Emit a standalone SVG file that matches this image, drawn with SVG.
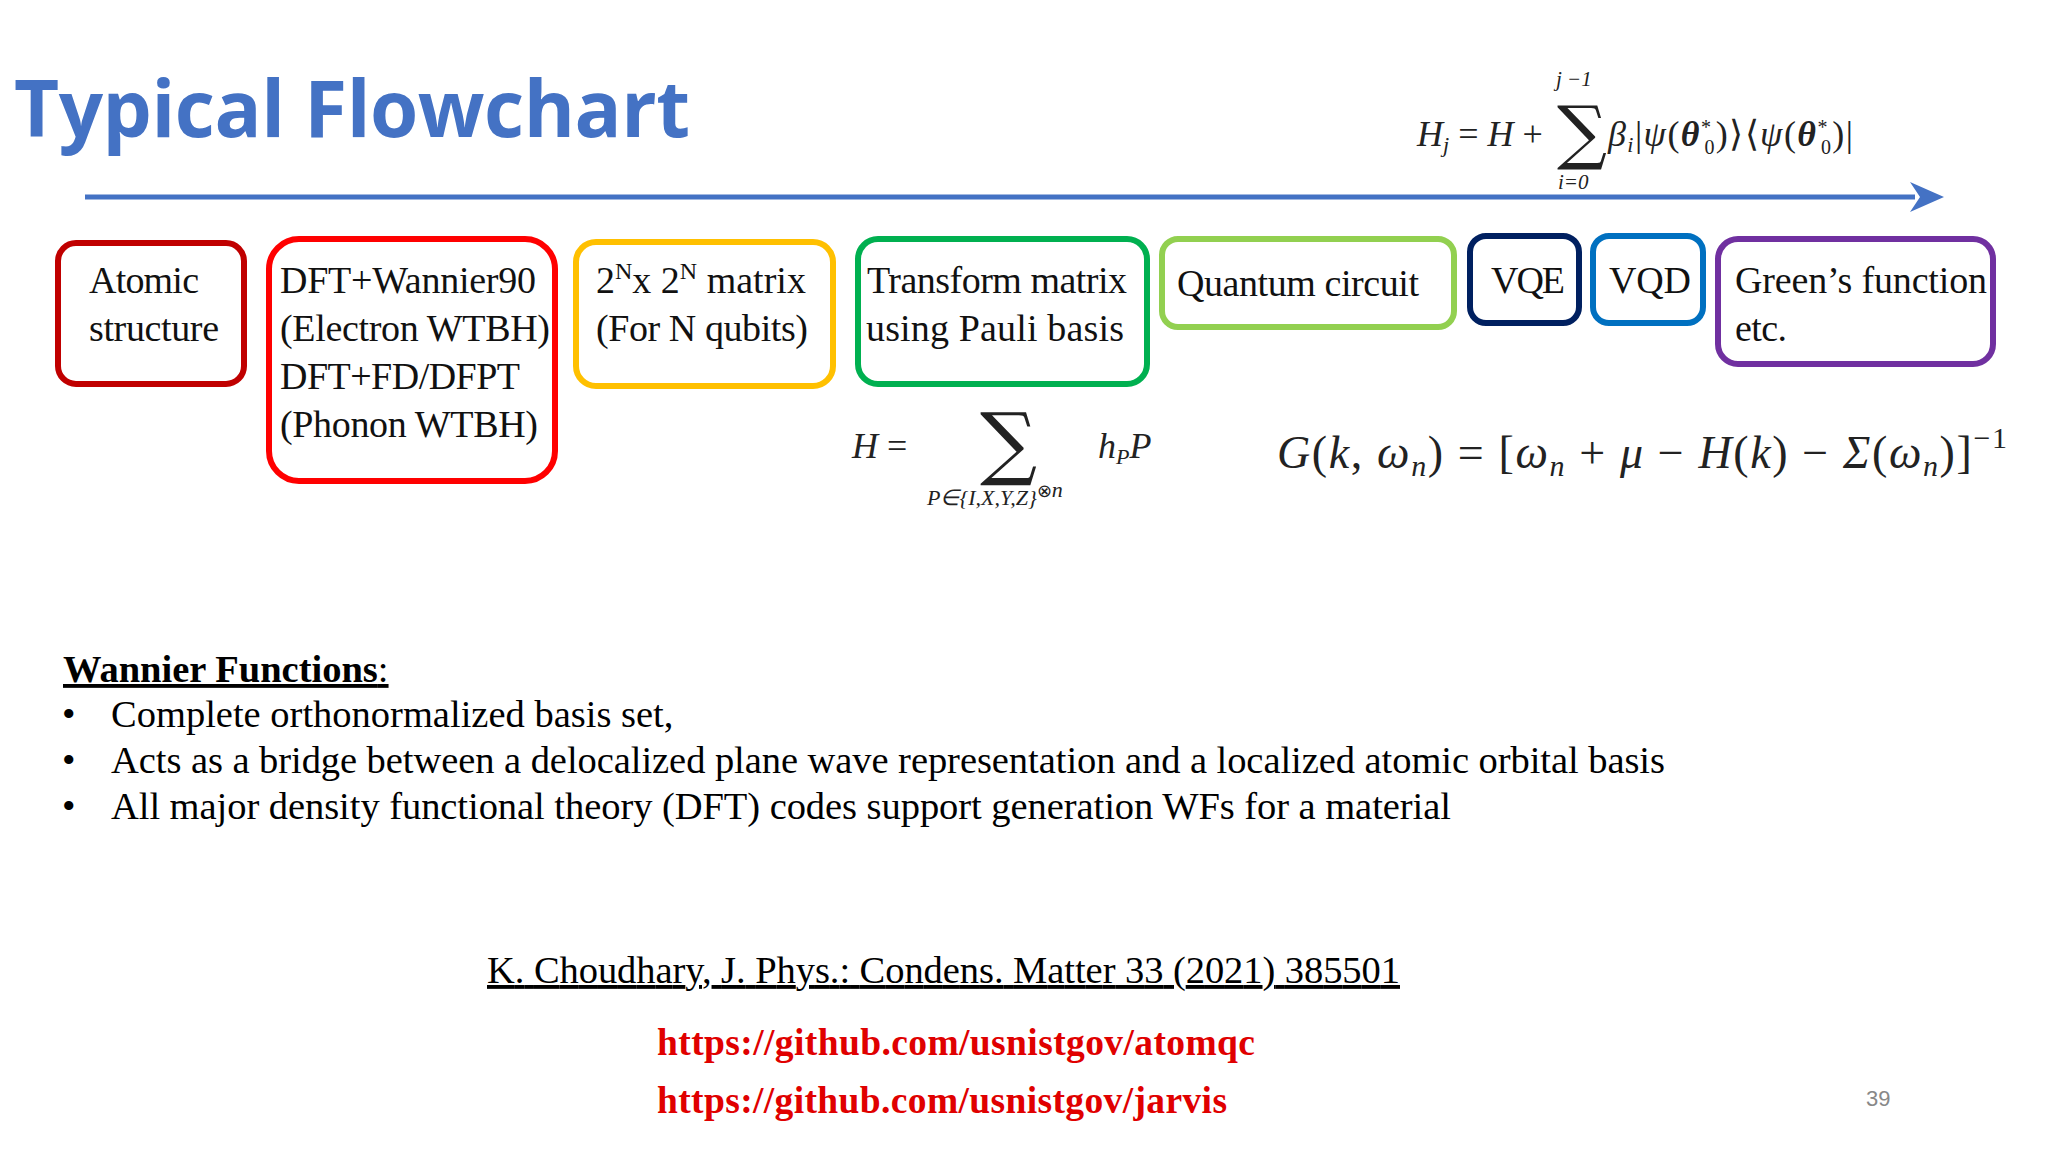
<svg xmlns="http://www.w3.org/2000/svg" width="2048" height="1152" viewBox="0 0 2048 1152">
<defs>
<style>
.box{fill:#fff;stroke-width:6}
.t{font-family:"Liberation Serif",serif;font-size:38px;fill:#111}
.m{font-family:"Liberation Serif",serif;font-style:italic;fill:#222}
.b{font-family:"Liberation Serif",serif;font-size:38.5px;fill:#000}
.u{font-family:"Liberation Serif",serif;font-size:37.5px;font-weight:bold;fill:#e00000}
</style>
</defs>
<rect width="2048" height="1152" fill="#fff"/>
<text x="14" y="137" font-family="'Open Sans','Liberation Sans',sans-serif" font-weight="bold" font-size="78" fill="#4472C4" textLength="676">Typical Flowchart</text>
<g id="connectors">
<line x1="85" y1="197" x2="1915" y2="197" stroke="#4472C4" stroke-width="5"/>
<path d="M1910,182 L1944,197 L1910,212 L1920,197 Z" fill="#4472C4"/>
</g>
<g id="n1"><rect class="box" x="58" y="243" width="186" height="141" rx="18" stroke="#C00000"/>
<text class="t" x="89" y="293" textLength="110">Atomic</text><text class="t" x="89" y="341" textLength="130">structure</text></g>
<g id="n2"><rect class="box" x="269" y="239" width="286" height="242" rx="30" stroke="#FF0000"/>
<text class="t" x="280" y="293" textLength="256">DFT+Wannier90</text><text class="t" x="280" y="341" textLength="270">(Electron WTBH)</text>
<text class="t" x="280" y="389" textLength="240">DFT+FD/DFPT</text><text class="t" x="280" y="437" textLength="258">(Phonon WTBH)</text></g>
<g id="n3"><rect class="box" x="576" y="242" width="257" height="144" rx="20" stroke="#FFC000"/>
<text class="t" x="596" y="293">2<tspan font-size="24" dy="-14">N</tspan><tspan dy="14">x 2</tspan><tspan font-size="24" dy="-14">N</tspan><tspan dy="14"> matrix</tspan></text>
<text class="t" x="596" y="341" textLength="212">(For N qubits)</text></g>
<g id="n4"><rect class="box" x="858" y="239" width="289" height="145" rx="20" stroke="#00B050"/>
<text class="t" x="867" y="293" textLength="260">Transform matrix</text><text class="t" x="866" y="341" textLength="258">using  Pauli basis</text></g>
<g id="n5"><rect class="box" x="1162" y="239" width="292" height="88" rx="16" stroke="#92D050"/>
<text class="t" x="1177" y="296" textLength="242">Quantum circuit</text></g>
<g id="n6"><rect class="box" x="1470" y="236" width="109" height="87" rx="16" stroke="#002060"/>
<text class="t" x="1491" y="293" textLength="74">VQE</text></g>
<g id="n7"><rect class="box" x="1593" y="236" width="110" height="87" rx="16" stroke="#0070C0"/>
<text class="t" x="1609" y="293" textLength="82">VQD</text></g>
<g id="n8"><rect class="box" x="1718" y="239" width="275" height="125" rx="20" stroke="#7030A0"/>
<text class="t" x="1735" y="293" textLength="252">Green’s function</text><text class="t" x="1735" y="341" textLength="52">etc.</text></g>
<g id="formulas">
<text class="m" font-size="36" x="1417" y="146">H<tspan font-size="22" dy="6">j</tspan><tspan dy="-6" font-style="normal"> = </tspan>H<tspan font-style="normal"> + </tspan></text>
<text class="m" font-size="21" x="1556" y="86">j −1</text>
<text font-family="'DejaVu Serif',serif" font-size="70" x="1557" y="156" fill="#222">∑</text>
<text class="m" font-size="21" x="1558" y="189">i=0</text>
<text class="m" font-size="36" x="1608" y="146" textLength="245">β<tspan font-size="22" dy="6">i</tspan><tspan dy="-6" font-style="normal">|</tspan>ψ<tspan font-style="normal">(</tspan><tspan font-weight="bold">θ</tspan><tspan font-size="20" dy="-12" font-style="normal">*</tspan><tspan font-size="20" dx="-8" dy="20" font-style="normal">0</tspan><tspan dy="-8" font-style="normal">)⟩⟨</tspan>ψ<tspan font-style="normal">(</tspan><tspan font-weight="bold">θ</tspan><tspan font-size="20" dy="-12" font-style="normal">*</tspan><tspan font-size="20" dx="-8" dy="20" font-style="normal">0</tspan><tspan dy="-8" font-style="normal">)|</tspan></text>
<text class="m" font-size="36" x="852" y="458">H<tspan font-style="normal"> =</tspan></text>
<text font-family="'DejaVu Serif',serif" font-size="80" x="980" y="470" fill="#222">∑</text>
<text class="m" font-size="22" x="927" y="505">P∈{I,X,Y,Z}<tspan font-style="normal" font-size="18" dy="-8">⊗</tspan><tspan dy="0">n</tspan></text>
<text class="m" font-size="36" x="1098" y="458">h<tspan font-size="22" dy="6">P</tspan><tspan dy="-6">P</tspan></text>
<text class="m" font-size="46" x="1277" y="468" textLength="730">G<tspan font-style="normal">(</tspan>k<tspan font-style="normal">, </tspan>ω<tspan font-size="30" dy="8">n</tspan><tspan dy="-8" font-style="normal">) = [</tspan>ω<tspan font-size="30" dy="8">n</tspan><tspan dy="-8" font-style="normal"> + </tspan>μ<tspan font-style="normal"> − </tspan>H<tspan font-style="normal">(</tspan>k<tspan font-style="normal">) − </tspan>Σ<tspan font-style="normal">(</tspan>ω<tspan font-size="30" dy="8">n</tspan><tspan dy="-8" font-style="normal">)]</tspan><tspan font-style="normal" font-size="30" dy="-20">−1</tspan></text>
</g>
<text class="b" x="63" y="682"><tspan font-weight="bold" text-decoration="underline">Wannier Functions</tspan><tspan text-decoration="underline">:</tspan></text>
<text class="b" x="62" y="727">•</text><text class="b" x="111" y="727">Complete orthonormalized basis set,</text>
<text class="b" x="62" y="773">•</text><text class="b" x="111" y="773" textLength="1554">Acts as a bridge between a delocalized plane wave representation and a localized atomic orbital basis</text>
<text class="b" x="62" y="819">•</text><text class="b" x="111" y="819" textLength="1340">All major density functional theory (DFT) codes support generation WFs for a material</text>
<text class="b" x="487" y="983" text-decoration="underline" textLength="913">K. Choudhary, J. Phys.: Condens. Matter 33 (2021) 385501</text>
<text class="u" x="657" y="1055" textLength="598">https://github.com/usnistgov/atomqc</text>
<text class="u" x="657" y="1113" textLength="570">https://github.com/usnistgov/jarvis</text>
<text x="1866" y="1106" font-family="'Liberation Sans',sans-serif" font-size="22" fill="#888">39</text>
</svg>
